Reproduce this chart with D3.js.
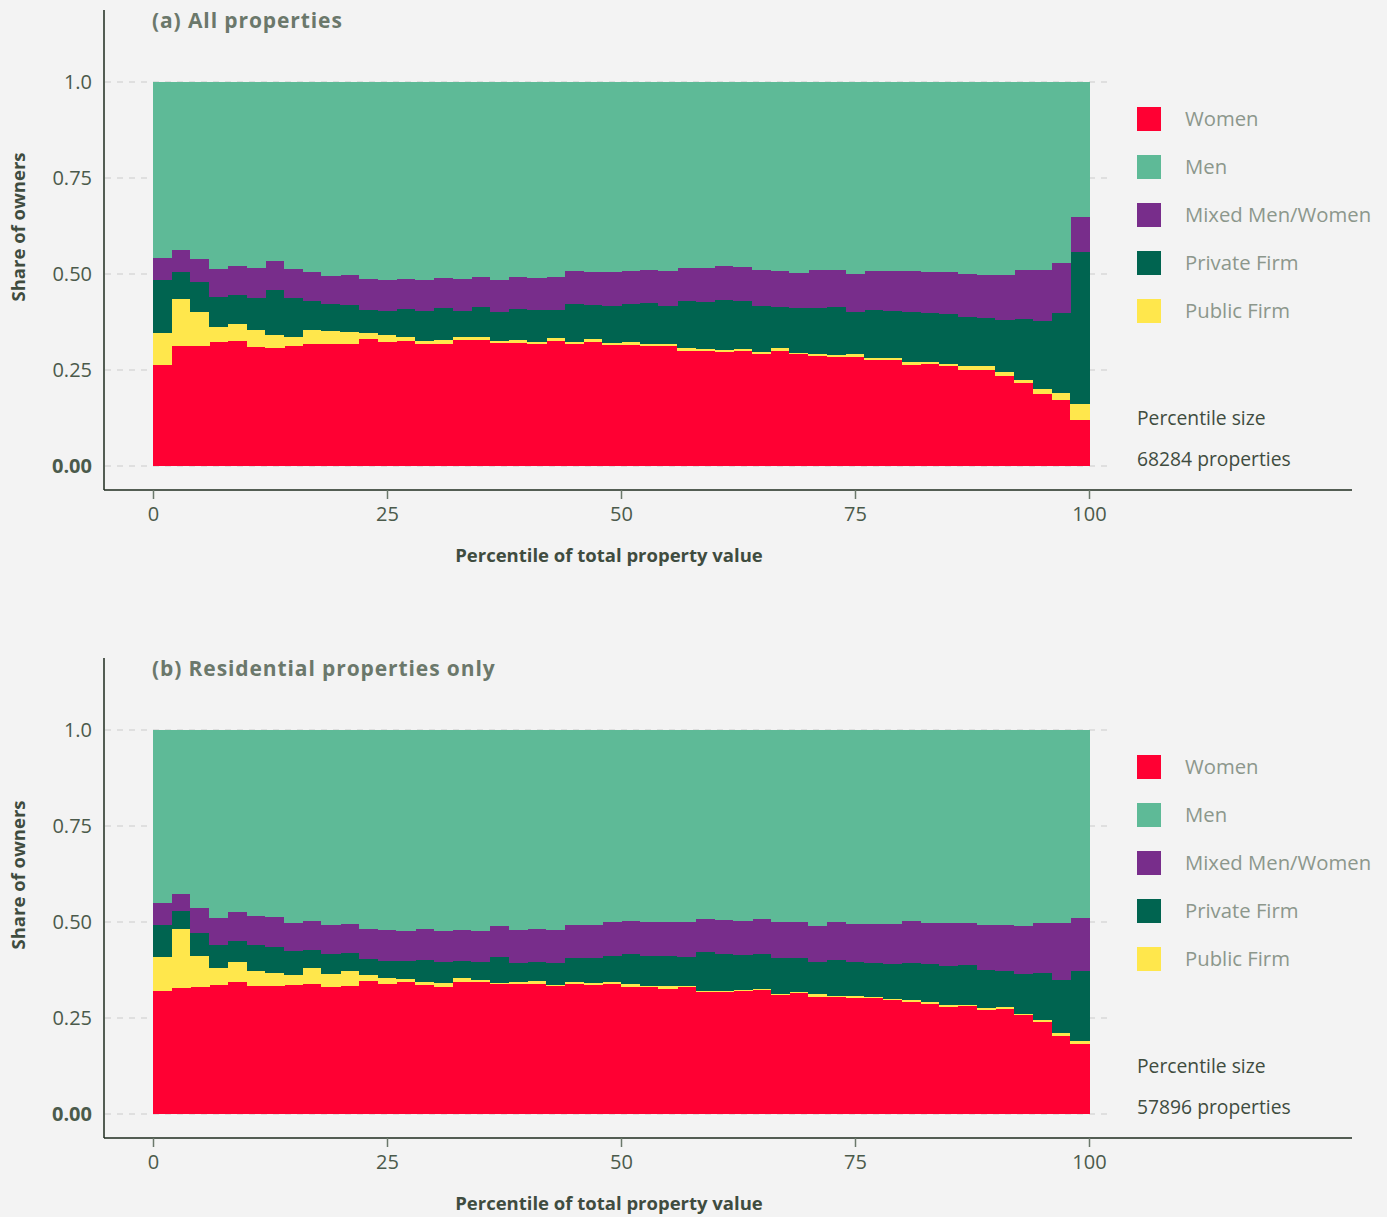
<!DOCTYPE html>
<html>
<head>
<meta charset="utf-8">
<script src="https://cdn.jsdelivr.net/npm/d3@7"></script>
<style>
  html, body { margin: 0; padding: 0; background: #f3f3f3; }
  svg { display: block; }
  text { font-family: "Open Sans", "Noto Sans", sans-serif; }
</style>
</head>
<body>
<svg id="chart" width="1387" height="1217"></svg>
<script>
// Lower edge of each 2-percentile bin
const binStarts = [0, 2, 4, 6, 8, 10, 12, 14, 16, 18, 20, 22, 24, 26, 28, 30, 32, 34, 36, 38,
  40, 42, 44, 46, 48, 50, 52, 54, 56, 58, 60, 62, 64, 66, 68, 70, 72, 74, 76, 78,
  80, 82, 84, 86, 88, 90, 92, 94, 96, 98];
const binWidth = 2;

const seriesKeys = ["women", "public", "private", "mixed", "men"];
const legendKeys = ["women", "men", "mixed", "private", "public"];
const seriesLabels = {
  women: "Women", men: "Men", mixed: "Mixed Men/Women",
  private: "Private Firm", public: "Public Firm"
};
const seriesColors = {
  women: "#ff0033", men: "#5eba97", mixed: "#782d8b",
  private: "#006450", public: "#ffe74c"
};

const yTickValues = [0, 0.25, 0.5, 0.75, 1];
const yTickLabels = ["0.00", "0.25", "0.50", "0.75", "1.0"];
const xTickValues = [0, 25, 50, 75, 100];

// (a) All properties — share of owners per bin
const allWomen = [0.263, 0.313, 0.313, 0.323, 0.326, 0.310, 0.307, 0.313, 0.318, 0.318,
  0.318, 0.331, 0.323, 0.326, 0.318, 0.318, 0.328, 0.328, 0.320, 0.320,
  0.318, 0.326, 0.318, 0.323, 0.315, 0.315, 0.313, 0.313, 0.300, 0.300,
  0.297, 0.300, 0.292, 0.300, 0.292, 0.286, 0.284, 0.284, 0.276, 0.276,
  0.263, 0.266, 0.260, 0.250, 0.250, 0.234, 0.216, 0.188, 0.172, 0.120];
const allPublic = [0.083, 0.122, 0.089, 0.039, 0.044, 0.044, 0.034, 0.023, 0.036, 0.034,
  0.031, 0.015, 0.018, 0.010, 0.008, 0.010, 0.008, 0.008, 0.006, 0.008,
  0.005, 0.007, 0.005, 0.008, 0.005, 0.008, 0.005, 0.005, 0.007, 0.005,
  0.005, 0.005, 0.005, 0.007, 0.002, 0.006, 0.005, 0.008, 0.005, 0.005,
  0.008, 0.005, 0.006, 0.010, 0.010, 0.011, 0.008, 0.012, 0.018, 0.041];
const allPrivate = [0.139, 0.070, 0.076, 0.078, 0.075, 0.084, 0.117, 0.102, 0.076, 0.070,
  0.070, 0.060, 0.063, 0.073, 0.078, 0.083, 0.068, 0.078, 0.075, 0.081,
  0.083, 0.073, 0.099, 0.088, 0.097, 0.099, 0.106, 0.099, 0.123, 0.122,
  0.130, 0.125, 0.120, 0.107, 0.117, 0.119, 0.125, 0.109, 0.125, 0.123,
  0.130, 0.127, 0.130, 0.128, 0.125, 0.135, 0.159, 0.178, 0.208, 0.396];
const allMixed = [0.057, 0.058, 0.062, 0.073, 0.076, 0.078, 0.076, 0.075, 0.075, 0.073,
  0.078, 0.081, 0.080, 0.078, 0.080, 0.079, 0.083, 0.078, 0.083, 0.083,
  0.084, 0.086, 0.086, 0.086, 0.088, 0.086, 0.086, 0.091, 0.086, 0.089,
  0.089, 0.088, 0.093, 0.094, 0.092, 0.099, 0.096, 0.099, 0.102, 0.104,
  0.107, 0.107, 0.109, 0.112, 0.112, 0.117, 0.127, 0.132, 0.131, 0.091];

// (b) Residential properties only — share of owners per bin
const resWomen = [0.320, 0.328, 0.331, 0.336, 0.344, 0.333, 0.333, 0.336, 0.339, 0.331,
  0.333, 0.346, 0.339, 0.344, 0.336, 0.331, 0.344, 0.344, 0.339, 0.339,
  0.339, 0.333, 0.339, 0.336, 0.339, 0.331, 0.331, 0.326, 0.331, 0.318,
  0.318, 0.320, 0.323, 0.310, 0.315, 0.305, 0.305, 0.302, 0.302, 0.297,
  0.292, 0.286, 0.279, 0.281, 0.271, 0.273, 0.258, 0.240, 0.203, 0.182];
const resPublic = [0.089, 0.154, 0.080, 0.044, 0.052, 0.039, 0.034, 0.026, 0.041, 0.034,
  0.039, 0.016, 0.015, 0.008, 0.008, 0.010, 0.010, 0.005, 0.002, 0.005,
  0.007, 0.003, 0.005, 0.005, 0.005, 0.008, 0.002, 0.007, 0.002, 0.002,
  0.002, 0.003, 0.003, 0.003, 0.003, 0.008, 0.002, 0.005, 0.003, 0.003,
  0.005, 0.006, 0.005, 0.003, 0.005, 0.006, 0.002, 0.005, 0.008, 0.008];
const resPrivate = [0.083, 0.047, 0.060, 0.060, 0.054, 0.068, 0.068, 0.062, 0.047, 0.052,
  0.047, 0.042, 0.044, 0.046, 0.057, 0.055, 0.044, 0.047, 0.068, 0.049,
  0.050, 0.057, 0.062, 0.065, 0.067, 0.078, 0.078, 0.078, 0.076, 0.102,
  0.097, 0.091, 0.091, 0.093, 0.088, 0.083, 0.094, 0.089, 0.088, 0.091,
  0.096, 0.099, 0.101, 0.104, 0.099, 0.093, 0.105, 0.122, 0.138, 0.182];
const resMixed = [0.057, 0.044, 0.065, 0.070, 0.076, 0.076, 0.078, 0.073, 0.076, 0.075,
  0.076, 0.078, 0.081, 0.079, 0.081, 0.081, 0.081, 0.081, 0.081, 0.086,
  0.086, 0.086, 0.086, 0.086, 0.089, 0.086, 0.089, 0.089, 0.091, 0.086,
  0.088, 0.089, 0.091, 0.094, 0.094, 0.094, 0.099, 0.099, 0.102, 0.104,
  0.110, 0.106, 0.112, 0.109, 0.117, 0.120, 0.125, 0.130, 0.148, 0.138];

const panels = [
  { title: "(a) All properties", size: "68284 properties", offset: 0,
    women: allWomen, public: allPublic, private: allPrivate, mixed: allMixed },
  { title: "(b) Residential properties only", size: "57896 properties", offset: 648,
    women: resWomen, public: resPublic, private: resPrivate, mixed: resMixed }
];

const svg = d3.select("#chart");
svg.append("rect").attr("width", 1387).attr("height", 1217).attr("fill", "#f3f3f3");

const x = d3.scaleLinear().domain([0, 100]).range([153, 1089]);
const axisDark = "#1e2b1e";
const tickText = "#4b5a4b";

panels.forEach(p => {
  const g = svg.append("g").attr("transform", `translate(0,${p.offset})`);
  const y = d3.scaleLinear().domain([0, 1]).range([466, 82]);

  // rows: one per bin, men takes the remainder
  const rows = binStarts.map((b, i) => {
    const r = { start: b, women: p.women[i], public: p.public[i], private: p.private[i], mixed: p.mixed[i] };
    r.men = 1 - r.women - r.public - r.private - r.mixed;
    return r;
  });

  // dashed gridlines
  g.append("g").selectAll("line").data(yTickValues).join("line")
    .attr("x1", 105).attr("x2", 1113)
    .attr("y1", d => y(d)).attr("y2", d => y(d))
    .attr("stroke", "#d9d9d9").attr("stroke-width", 1.5)
    .attr("stroke-dasharray", "6,6");

  // stacked bars
  const stacked = d3.stack().keys(seriesKeys)(rows);
  g.append("g").attr("shape-rendering", "crispEdges")
    .selectAll("g").data(stacked).join("g")
    .attr("fill", s => seriesColors[s.key])
    .selectAll("rect").data(s => s).join("rect")
    .attr("x", d => x(d.data.start))
    .attr("width", d => x(d.data.start + binWidth) - x(d.data.start) + 0.5)
    .attr("y", d => y(d[1]))
    .attr("height", d => y(d[0]) - y(d[1]));

  // axes lines
  g.append("line").attr("x1", 104).attr("x2", 104).attr("y1", 10).attr("y2", 490)
    .attr("stroke", axisDark).attr("stroke-width", 1.5);
  g.append("line").attr("x1", 104).attr("x2", 1352).attr("y1", 490).attr("y2", 490)
    .attr("stroke", axisDark).attr("stroke-width", 1.5);

  // x axis ticks
  const xAxis = d3.axisBottom(x).tickValues(xTickValues).tickSize(9).tickPadding(8);
  const xg = g.append("g").attr("transform", "translate(0,490)").call(xAxis);
  xg.select(".domain").remove();
  xg.selectAll(".tick line").attr("stroke", "#6b786b").attr("stroke-width", 1.5);
  xg.selectAll(".tick text").attr("fill", tickText).attr("font-size", 20)
    .attr("font-family", "'Open Sans', sans-serif");

  // y axis labels
  const yAxis = d3.axisLeft(y).tickValues(yTickValues)
    .tickFormat((d, i) => yTickLabels[i]).tickSize(0).tickPadding(12);
  const yg = g.append("g").attr("transform", "translate(104,0)").call(yAxis);
  yg.select(".domain").remove();
  yg.selectAll(".tick text").attr("fill", tickText).attr("font-size", 20)
    .attr("font-family", "'Open Sans', sans-serif")
    .attr("font-weight", d => d === 0 ? 700 : 400);

  // titles
  g.append("text").attr("x", 152).attr("y", 28).text(p.title)
    .attr("font-size", 21).attr("font-weight", 700).attr("letter-spacing", 0.9)
    .attr("fill", "#6b786b");
  g.append("text").attr("x", 609).attr("y", 562).attr("text-anchor", "middle")
    .text("Percentile of total property value")
    .attr("font-size", 18.5).attr("font-weight", 700).attr("fill", "#3f4c3f");
  g.append("text").attr("transform", "translate(25,227) rotate(-90)")
    .attr("text-anchor", "middle").text("Share of owners")
    .attr("font-size", 18.5).attr("font-weight", 700).attr("fill", "#3f4c3f");

  // legend
  const lg = g.append("g").selectAll("g").data(legendKeys).join("g")
    .attr("transform", (d, i) => `translate(1137,${107 + i * 48})`);
  lg.append("rect").attr("width", 24).attr("height", 24).attr("fill", d => seriesColors[d]);
  lg.append("text").attr("x", 48).attr("y", 19).text(d => seriesLabels[d])
    .attr("font-size", 20.3).attr("fill", "#8c978c");

  g.append("text").attr("x", 1137).attr("y", 425).text("Percentile size")
    .attr("font-size", 19.3).attr("fill", "#3f4c3f");
  g.append("text").attr("x", 1137).attr("y", 466).text(p.size)
    .attr("font-size", 19.3).attr("fill", "#3f4c3f");
});
</script>
</body>
</html>
